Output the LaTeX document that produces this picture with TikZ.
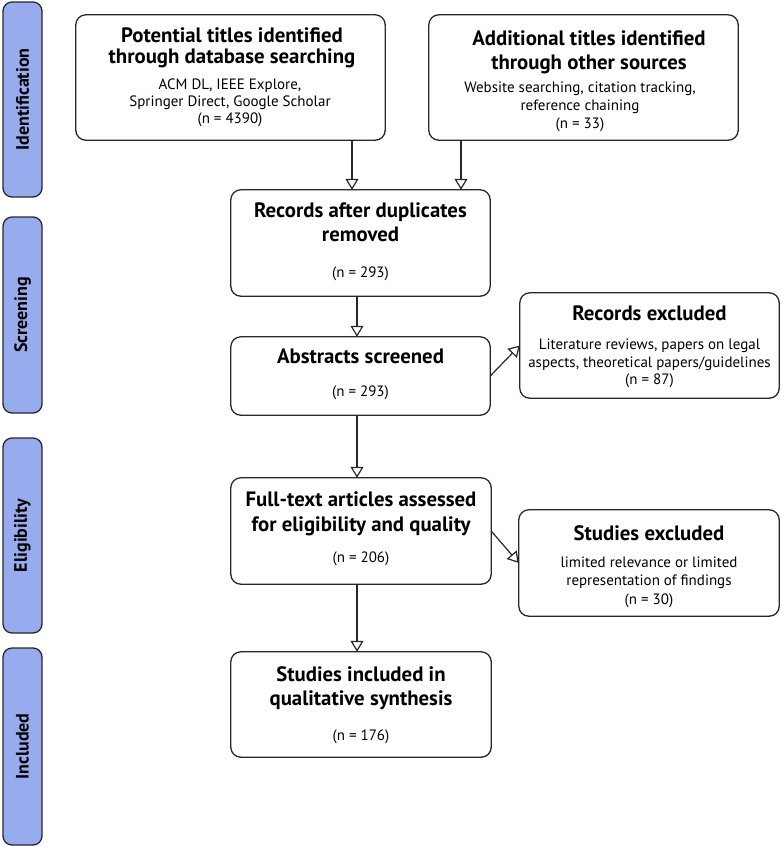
\documentclass[tikz,border=0pt]{standalone}
\usepackage{fontspec}
\setmainfont{PT Sans}
\usetikzlibrary{arrows.meta}
\definecolor{barblue}{RGB}{151,171,238}
\definecolor{edge}{RGB}{40,40,40}
\begin{document}
\begin{tikzpicture}[x=1pt,y=-1pt,
  box/.style={draw=edge,line width=1.3pt,rounded corners=10pt,fill=white},
  bar/.style={draw=edge,line width=1.3pt,rounded corners=9pt,fill=barblue},
  ttl/.style={anchor=base,inner sep=0pt,font=\fontsize{20.8}{24}\selectfont\bfseries},
  sml/.style={anchor=base,inner sep=0pt,font=\fontsize{15}{18}\selectfont},
  side/.style={rotate=90,inner sep=0pt,font=\fontsize{18}{21}\selectfont\bfseries},
  arr/.style={draw=edge,line width=1.2pt,-{Triangle[open,length=11pt,width=13pt,line width=1.2pt]}}]
\useasboundingbox (0,0) rectangle (782,847);
% side bars
\draw[bar] (3,2) rectangle (42,197);
\draw[bar] (3,217) rectangle (42,413);
\draw[bar] (3,438) rectangle (42,633);
\draw[bar] (3,648) rectangle (42,845);
\node[side] (s1) at (22.5,99.5) {Identification};
\node[side] (s2) at (22.5,315) {Screening};
\node[side] (s3) at (22.5,535.5) {Eligibility};
\node[side] (s4) at (22.5,746.5) {Included};
% boxes
\node[inner sep=0pt,minimum width=309pt,minimum height=125pt] (b1) at (230.5,77.5) {};
\node[inner sep=0pt,minimum width=309pt,minimum height=125pt] (b2) at (583.5,77.5) {};
\node[inner sep=0pt,minimum width=259pt,minimum height=106pt] (b3) at (360.5,243) {};
\node[inner sep=0pt,minimum width=259pt,minimum height=78pt] (b4) at (360.5,376) {};
\node[inner sep=0pt,minimum width=259pt,minimum height=105pt] (b5) at (649.5,345.5) {};
\node[inner sep=0pt,minimum width=260pt,minimum height=106pt] (b6) at (361,531) {};
\node[inner sep=0pt,minimum width=260pt,minimum height=106pt] (b7) at (649,563) {};
\node[inner sep=0pt,minimum width=260pt,minimum height=105pt] (b8) at (361,704.5) {};
\foreach \b in {b1,b2,b3,b4,b5,b6,b7,b8}{\draw[box] (\b.south west) rectangle (\b.north east);}
% texts
\node[ttl] (t1a) at (232,42) {Potential titles identified};
\node[ttl] (t1b) at (232,63) {through database searching};
\node[sml] (t1c) at (230,89) {ACM DL, IEEE Explore,};
\node[sml] (t1d) at (230,106) {Springer Direct, Google Scholar};
\node[sml] (t1e) at (230,123) {(n = 4390)};
\node[ttl] (t2a) at (589,45) {Additional titles identified};
\node[ttl] (t2b) at (589,69) {through other sources};
\node[sml] (t2c) at (580,92) {Website searching, citation tracking,};
\node[sml] (t2d) at (580,110) {reference chaining};
\node[sml] (t2e) at (580,128) {(n = 33)};
\node[ttl] (t3a) at (360.5,217) {Records after duplicates};
\node[ttl] (t3b) at (360.5,241) {removed};
\node[sml] (t3c) at (360.5,277) {(n = 293)};
\node[ttl] (t4a) at (360.5,363) {Abstracts screened};
\node[sml] (t4b) at (360.5,396) {(n = 293)};
\node[ttl] (t5a) at (649.5,320) {Records excluded};
\node[sml] (t5b) at (649.5,349) {Literature reviews, papers on legal};
\node[sml] (t5c) at (649.5,367) {aspects, theoretical papers/guidelines};
\node[sml] (t5d) at (649.5,384) {(n = 87)};
\node[ttl] (t6a) at (361,506) {Full-text articles assessed};
\node[ttl] (t6b) at (361,531) {for eligibility and quality};
\node[sml] (t6c) at (361,562) {(n = 206)};
\node[ttl] (t7a) at (649,540) {Studies excluded};
\node[sml] (t7b) at (649,567) {limited relevance or limited};
\node[sml] (t7c) at (649,585) {representation of findings};
\node[sml] (t7d) at (649,604) {(n = 30)};
\node[ttl] (t8a) at (361,681) {Studies included in};
\node[ttl] (t8b) at (361,705) {qualitative synthesis};
\node[sml] (t8c) at (361,740) {(n = 176)};
% connectors
\coordinate (x1) at (352,0);
\coordinate (x2) at (461,0);
\coordinate (x3) at (357,0);
\draw[arr] (b1.south -| x1) -- (b3.north -| x1);
\draw[arr] (b2.south -| x2) -- (b3.north -| x2);
\draw[arr] (b3.south -| x3) -- (b4.north -| x3);
\draw[arr] (b4.south -| x3) -- (b6.north -| x3);
\draw[arr] (b6.south -| x3) -- (b8.north -| x3);
\draw[arr] (b4.east) -- (b5.west);
\draw[arr] (b6.east) -- (b7.west);
\end{tikzpicture}
\end{document}
